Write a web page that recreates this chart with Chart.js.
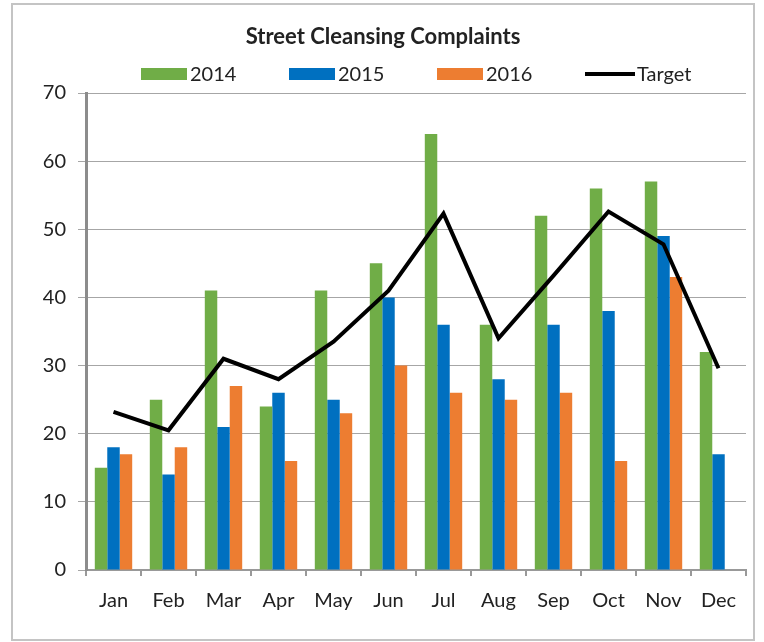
<!DOCTYPE html>
<html>
<head>
<meta charset="utf-8">
<script src="https://cdn.jsdelivr.net/npm/chart.js@4"></script>
<style>
  body { margin: 0; background: #fff; }
  #wrap { width: 764px; height: 642px; }
</style>
</head>
<body>
<div id="wrap"><canvas id="myChart" width="764" height="642"></canvas></div>
<script>
const months = ['Jan', 'Feb', 'Mar', 'Apr', 'May', 'Jun', 'Jul', 'Aug', 'Sep', 'Oct', 'Nov', 'Dec'];
const y2014 = [15, 25, 41, 24, 41, 45, 64, 36, 52, 56, 57, 32];
const y2015 = [18, 14, 21, 26, 25, 40, 36, 28, 36, 38, 49, 17];
const y2016 = [17, 18, 27, 16, 23, 30, 26, 25, 26, 16, 43, null];
const target = [23.2, 20.5, 31, 28, 33.5, 41, 52.3, 34, 43.2, 52.6, 47.8, 29.6];

const FONT = 'Lato, "Open Sans", sans-serif';
const TEXT = '#222';

// grey frame round the whole chart
const frame = {
  id: 'frame',
  beforeDraw(chart) {
    const c = chart.ctx;
    c.save();
    c.fillStyle = '#fff';
    c.fillRect(0, 0, chart.width, chart.height);
    c.strokeStyle = '#c4c4c4';
    c.lineWidth = 2;
    c.strokeRect(12, 4, 742, 636);
    c.restore();
  }
};

// legend drawn by hand so the swatch sits right against the label like Excel does
const excelLegend = {
  id: 'excelLegend',
  afterDraw(chart) {
    const c = chart.ctx;
    const y = 74;
    let x = 141;
    c.save();
    c.font = '20px ' + FONT;
    c.textBaseline = 'middle';
    c.fillStyle = TEXT;
    chart.data.datasets.forEach(ds => {
      if (ds.type === 'line') {
        c.strokeStyle = ds.borderColor;
        c.lineWidth = 4;
        c.beginPath();
        c.moveTo(x, y);
        c.lineTo(x + 50, y);
        c.stroke();
      } else {
        c.fillStyle = ds.backgroundColor;
        c.fillRect(x, y - 6, 46, 12);
      }
      c.fillStyle = TEXT;
      c.fillText(ds.label, x + (ds.type === 'line' ? 52 : 49), y + 1);
      x += 148;
    });
    c.restore();
  }
};

const ctx = document.getElementById('myChart');

new Chart(ctx, {
  type: 'bar',
  data: {
    labels: months,
    datasets: [
      { label: '2014', data: y2014, backgroundColor: '#70AD47', order: 1 },
      { label: '2015', data: y2015, backgroundColor: '#0070C0', order: 1 },
      { label: '2016', data: y2016, backgroundColor: '#ED7D31', order: 1 },
      {
        type: 'line', label: 'Target', data: target, order: 0,
        borderColor: '#000', backgroundColor: '#000', borderWidth: 4,
        pointRadius: 0, tension: 0
      }
    ]
  },
  options: {
    responsive: false,
    animation: false,
    categoryPercentage: 0.68,
    barPercentage: 1,
    layout: { padding: { left: 20, right: 18, top: 24, bottom: 30 } },
    plugins: {
      title: {
        display: true,
        text: 'Street Cleansing Complaints',
        color: TEXT,
        font: { family: FONT, size: 22, weight: 'bold', lineHeight: 1.2 },
        padding: { top: 0, bottom: 42.6 }
      },
      legend: { display: false },
      tooltip: { enabled: false }
    },
    scales: {
      x: {
        grid: { drawOnChartArea: false, color: '#999', tickLength: 6, lineWidth: 2 },
        border: { color: '#999', width: 2 },
        ticks: { color: TEXT, font: { family: FONT, size: 20 }, padding: 13 },
        afterFit(scale) { scale.height = 42; }
      },
      y: {
        min: 0, max: 70,
        ticks: { stepSize: 10, color: TEXT, font: { family: FONT, size: 20 }, padding: 12 },
        grid: { color: '#a6a6a6', lineWidth: 1, tickLength: 8 },
        border: { color: '#8c8c8c', width: 3 },
        afterFit(scale) { scale.width = 66; }
      }
    }
  },
  plugins: [frame, excelLegend]
});
</script>
</body>
</html>
